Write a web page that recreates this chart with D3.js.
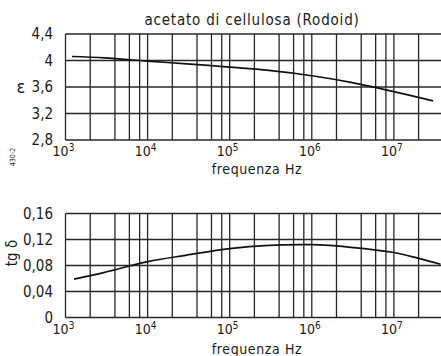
<!DOCTYPE html>
<html><head><meta charset="utf-8">
<script src="https://cdn.jsdelivr.net/npm/d3@7"></script>
<style>
html,body{margin:0;padding:0;background:#fff;}
svg{display:block;}
text{font-family:"DejaVu Sans Condensed","Liberation Sans Narrow",sans-serif;fill:#1a1a1a;}
</style></head>
<body>
<script>
// ---- data ----
const title = "acetato di cellulosa (Rodoid)";
const xLabel = "frequenza Hz";
const freqEps = [1.2e3, 3e3, 1e4, 3e4, 1e5, 3e5, 1e6, 3e6, 1e7, 3e7];
const epsVals = [4.06, 4.04, 3.99, 3.95, 3.90, 3.85, 3.77, 3.67, 3.53, 3.39];
const freqTg = [1.27e3, 3e3, 1e4, 3e4, 1e5, 3e5, 1e6, 3e6, 1e7, 2e7, 3.7e7];
const tgVals = [0.059, 0.0695, 0.086, 0.096, 0.106, 0.111, 0.112, 0.108, 0.100, 0.091, 0.082];
const epsTicks = [2.8, 3.2, 3.6, 4.0, 4.4];
const epsTickLabels = ["2,8", "3,2", "3,6", "4", "4,4"];
const tgTicks = [0, 0.04, 0.08, 0.12, 0.16];
const tgTickLabels = ["0", "0,04", "0,08", "0,12", "0,16"];
const decadeExps = [3, 4, 5, 6, 7];
const gridMultipliers = [1, 2, 4, 6, 8];

const W = 441, H = 356;
const svg = d3.select("body").append("svg").attr("width", W).attr("height", H);

const xMin = 1e3, xMax = 3.75e7;
const x = d3.scaleLog().domain([xMin, xMax]).range([65.5, 441]);
const gridFreqs = [];
decadeExps.forEach(e => gridMultipliers.forEach(m => { const f = m * Math.pow(10, e); if (f <= xMax) gridFreqs.push(f); }));

function panel(yDomain, yRange, yTicks, yTickLabels, freqs, vals, xLabY, xTitleY) {
  const y = d3.scaleLinear().domain(yDomain).range(yRange);
  const g = svg.append("g");
  g.selectAll("line.v").data(gridFreqs).enter().append("line")
    .attr("x1", d => x(d)).attr("x2", d => x(d))
    .attr("y1", y(yDomain[1])).attr("y2", y(yDomain[0]))
    .attr("stroke", "#262626").attr("stroke-width", 1.3);
  g.selectAll("line.h").data(yTicks).enter().append("line")
    .attr("x1", x(xMin)).attr("x2", W)
    .attr("y1", d => y(d)).attr("y2", d => y(d))
    .attr("stroke", "#262626").attr("stroke-width", 1.3);
  g.selectAll("text.yl").data(yTicks).enter().append("text")
    .attr("x", 53).attr("y", d => y(d) + 5)
    .attr("text-anchor", "end").attr("font-size", 15)
    .text((d, i) => yTickLabels[i]);
  decadeExps.forEach(e => {
    const t = g.append("text").attr("x", x(Math.pow(10, e)) - 2).attr("y", xLabY)
      .attr("text-anchor", "middle").attr("font-size", 14);
    t.append("tspan").text("10");
    t.append("tspan").attr("dy", -5).attr("font-size", 10).text(e);
  });
  g.append("text").attr("x", 257).attr("y", xTitleY).attr("text-anchor", "middle")
    .attr("font-size", 14).attr("letter-spacing", 0.6).text(xLabel);
  const pts = freqs.map((f, i) => [f, vals[i]]);
  g.append("path").datum(pts)
    .attr("d", d3.line().x(d => x(d[0])).y(d => y(d[1])).curve(d3.curveCatmullRom))
    .attr("fill", "none").attr("stroke", "#111").attr("stroke-width", 1.7);
  return y;
}

panel([2.8, 4.4], [140, 34], epsTicks, epsTickLabels, freqEps, epsVals, 156, 174);
panel([0, 0.16], [317.5, 213.5], tgTicks, tgTickLabels, freqTg, tgVals, 334, 354);

svg.append("text").attr("x", 252).attr("y", 25).attr("text-anchor", "middle")
  .attr("font-size", 15).attr("letter-spacing", 0.8).text(title);
svg.append("text").attr("x", 21).attr("y", 93).attr("text-anchor", "middle")
  .attr("font-size", 18).text("ε");
svg.append("text").attr("transform", "translate(17,253) rotate(-90)").attr("text-anchor", "middle")
  .attr("font-size", 15).text("tg δ");
svg.append("text").attr("transform", "translate(15,157) rotate(-90)").attr("text-anchor", "middle")
  .attr("font-size", 7).attr("fill", "#555").text("430-2");
</script>
</body></html>
